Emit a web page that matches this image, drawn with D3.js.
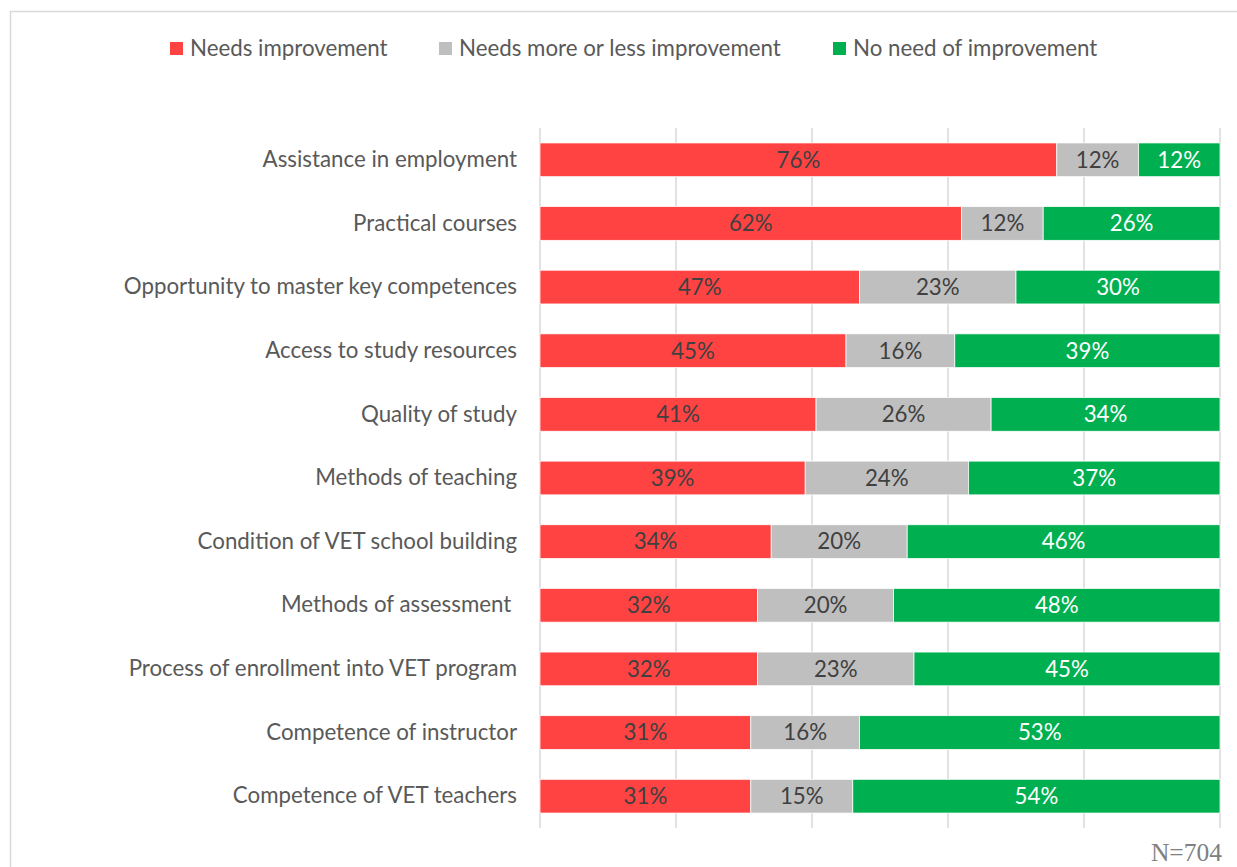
<!DOCTYPE html>
<html>
<head>
<meta charset="utf-8">
<script src="https://cdn.jsdelivr.net/npm/d3@7"></script>
<style>
  html, body { margin: 0; padding: 0; background: #fff; }
  svg { display: block; }
</style>
</head>
<body>
<svg id="chart" width="1237" height="867"></svg>
<script>
// Survey items, top to bottom
const categories = [
  "Assistance in employment",
  "Practical courses",
  "Opportunity to master key competences",
  "Access to study resources",
  "Quality of study",
  "Methods of teaching",
  "Condition of VET school building",
  "Methods of assessment ",
  "Process of enrollment into VET program",
  "Competence of instructor",
  "Competence of VET teachers"
];
const seriesNames = ["Needs improvement", "Needs more or less improvement", "No need of improvement"];
const needsImprovement   = [76, 62, 47, 45, 41, 39, 34, 32, 32, 31, 31];
const moreOrLess         = [12, 12, 23, 16, 26, 24, 20, 20, 23, 16, 15];
const noNeed             = [12, 26, 30, 39, 34, 37, 46, 48, 45, 53, 54];
const xTicks = [0, 0.2, 0.4, 0.6, 0.8, 1];
const sampleNote = "N=704";

const colors = ["#ff4343", "#bfbfbf", "#00b050"];
const labelColors = ["#404040", "#404040", "#ffffff"];
const font = "Lato, 'Open Sans', sans-serif";
const fontSize = 22.3;

const rows = categories.map((c, i) => ({
  category: c,
  [seriesNames[0]]: needsImprovement[i],
  [seriesNames[1]]: moreOrLess[i],
  [seriesNames[2]]: noNeed[i]
}));

const svg = d3.select("#chart");

// outer frame
svg.append("path")
  .attr("d", "M10.5,867 V11.5 H1237")
  .attr("fill", "none")
  .attr("stroke", "#d9d9d9")
  .attr("stroke-width", 1.5);

const plot = { left: 540, right: 1220, top: 128, bottom: 828 };

const x = d3.scaleLinear().domain([0, 1]).range([plot.left, plot.right]);
const y = d3.scaleBand().domain(categories).range([plot.top, plot.bottom]).paddingInner(0.47).paddingOuter(0.235);

// vertical gridlines
svg.append("g")
  .selectAll("line")
  .data(xTicks)
  .join("line")
  .attr("x1", d => x(d)).attr("x2", d => x(d))
  .attr("y1", plot.top).attr("y2", plot.bottom)
  .attr("stroke", "#d9d9d9")
  .attr("stroke-width", 1.5);

// normalised stacks (each row spans the full width)
const stack = d3.stack().keys(seriesNames).offset(d3.stackOffsetExpand);
const layers = stack(rows);

const layerG = svg.append("g")
  .selectAll("g")
  .data(layers)
  .join("g")
  .attr("fill", (d, i) => colors[i]);

layerG.selectAll("rect")
  .data(d => d)
  .join("rect")
  .attr("x", d => x(d[0]))
  .attr("width", d => x(d[1]) - x(d[0]))
  .attr("y", d => y(d.data.category))
  .attr("height", y.bandwidth())
  .attr("stroke", "#ffffff")
  .attr("stroke-width", 0.75);

// value labels
layers.forEach((layer, i) => {
  svg.append("g")
    .selectAll("text")
    .data(layer)
    .join("text")
    .attr("x", d => (x(d[0]) + x(d[1])) / 2)
    .attr("y", d => y(d.data.category) + y.bandwidth() / 2)
    .attr("dy", "0.35em")
    .attr("text-anchor", "middle")
    .attr("font-family", font)
    .attr("font-size", fontSize)
    .attr("fill", labelColors[i])
    .text(d => d.data[layer.key] + "%");
});

// category labels
const yAxis = d3.axisLeft(y).tickSize(0).tickPadding(23);
const yg = svg.append("g").attr("transform", `translate(${plot.left},0)`).call(yAxis);
yg.select(".domain").remove();
yg.selectAll("text")
  .attr("font-family", font)
  .attr("font-size", fontSize)
  .attr("fill", "#595959")
  .style("white-space", "pre");

// legend
const legendX = [170, 439, 833];
const legend = svg.append("g")
  .selectAll("g")
  .data(seriesNames)
  .join("g")
  .attr("transform", (d, i) => `translate(${legendX[i]},42)`);
legend.append("rect").attr("width", 13).attr("height", 13).attr("fill", (d, i) => colors[i]);
legend.append("text")
  .attr("x", 20).attr("y", 6.5).attr("dy", "0.35em")
  .attr("font-family", font).attr("font-size", fontSize).attr("fill", "#595959")
  .text(d => d);

// sample size note
svg.append("text")
  .attr("x", 1222).attr("y", 861)
  .attr("text-anchor", "end")
  .attr("font-family", "'Liberation Serif', 'Times New Roman', serif")
  .attr("font-size", 25.5)
  .attr("fill", "#808080")
  .text(sampleNote);
</script>
</body>
</html>
